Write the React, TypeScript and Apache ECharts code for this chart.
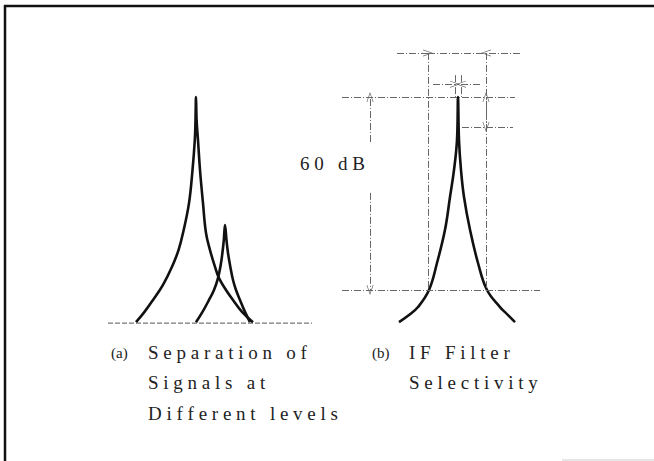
import React, { useEffect, useRef } from "react";
import * as echarts from "echarts";

// ---- data (x: frequency in arbitrary units, y: level in dB relative to peak) ----
const curveA_main: number[][] = [
  [136, -70], [144.5, -66.8], [153, -63.1], [163, -58.4], [172, -52.8], [178.5, -47.6],
  [183, -42.3], [189, -33.0], [192.5, -22.7], [194.8, -13.4], [195.5, -7.2], [196, 0],
  [196.6, -7.2], [198, -13.4], [200, -22.7], [203, -33.0], [206, -42.3], [210, -47.6],
  [215, -52.8], [219, -56.3], [226, -60], [233, -63.1], [242, -66.8], [253, -70],
];
const curveA_small: number[][] = [
  [196, -70], [202.5, -66.8], [209, -63.1], [214, -60], [218, -56.3], [220.7, -52.2],
  [222.4, -48.5], [223.8, -44.5], [225, -39.8], [226.5, -44.5], [228, -48.5], [230, -52.2],
  [233, -56.9], [236, -60], [240, -63.1], [245, -66.8], [250, -70],
];
const curveB: number[][] = [
  [399, -70], [409, -67.8], [418, -65.3], [429, -60], [437, -51.6], [445, -41.3],
  [450, -31.1], [454, -22.7], [457, -13.4], [458, 0], [459, -13.4], [461, -22.7],
  [464, -31.1], [470, -41.3], [478, -51.6], [487, -60], [500, -65.3], [508, -67.8],
  [515, -70],
];
const baselineA: number[][] = [[108, -70.3], [312, -70.3]];

// annotation levels (dB) and frequencies
const levelTop = 0;
const levelBottom = -60;
const levelWidthDim = 13.7;
const levelPeakDim = 4.0;
const levelPeakTick = 6.8;
const levelSmallDim = -9.3;
const xDim60 = 370;
const xLeft60 = 428;
const xRight60 = 486;
const xPeakL = 455;
const xPeakR = 461;

const labelsA = ["S e p a r a t i o n   o f", "S i g n a l s   a t", "D i f f e r e n t   l e v e l s"];
const labelsB = ["I F   F i l t e r", "S e l e c t i v i t y"];
const dimLabel = "6 0   d B";

const W = 654;
const H = 461;
const PX_PER_DB = 193 / 60;
const PEAK_Y = 97;

const ARROW = "path://M5,0 L10,10 L9,10 L5,2 L1,10 L0,10 Z";

function seg(a: number[], b: number[], arrowEnd = false, arrowStart = false) {
  return [
    { coord: a, symbol: arrowStart ? ARROW : "none" },
    { coord: b, symbol: arrowEnd ? ARROW : "none" },
  ];
}

export default function App() {
  const ref = useRef<HTMLDivElement>(null);
  useEffect(() => {
    if (!ref.current) return;
    const chart = echarts.init(ref.current, undefined, { renderer: "svg" });
    const curveStyle = { color: "#111", width: 2.6 };
    const dashDot = [7, 2, 1, 2];
    const midSmall = (levelTop + levelSmallDim) / 2;
    const textFont = "19px 'Liberation Serif'";
    chart.setOption({
      animation: false,
      backgroundColor: "#ffffff",
      grid: { left: 0, right: 0, top: 0, bottom: 0, containLabel: false },
      xAxis: { type: "value", min: 0, max: W, show: false },
      yAxis: {
        type: "value",
        min: -(H - PEAK_Y) / PX_PER_DB,
        max: PEAK_Y / PX_PER_DB,
        show: false,
      },
      series: [
        {
          type: "line",
          data: baselineA,
          symbol: "none",
          lineStyle: { color: "#777", width: 1.2, type: [5, 2] },
          silent: true,
        },
        {
          type: "line",
          data: curveA_main,
          symbol: "none",
          smooth: 0.4,
          lineStyle: curveStyle,
          silent: true,
        },
        {
          type: "line",
          data: curveA_small,
          symbol: "none",
          smooth: 0.4,
          lineStyle: curveStyle,
          silent: true,
        },
        {
          type: "line",
          data: curveB,
          symbol: "none",
          smooth: 0.4,
          lineStyle: curveStyle,
          silent: true,
          markLine: {
            silent: true,
            symbol: ["none", "none"],
            symbolSize: [7, 10],
            label: { show: false },
            lineStyle: { color: "#666", width: 1, type: dashDot },
            emphasis: { disabled: true },
            data: [
              seg([342, levelTop], [515, levelTop]),
              seg([342, levelBottom], [540, levelBottom]),
              seg([xDim60, -14], [xDim60, levelTop], true),
              seg([xDim60, -29.8], [xDim60, levelBottom], true),
              seg([xLeft60, levelWidthDim], [xLeft60, levelBottom]),
              seg([xRight60, levelWidthDim], [xRight60, levelBottom]),
              seg([397, levelWidthDim], [xLeft60, levelWidthDim], true),
              seg([520, levelWidthDim], [xRight60, levelWidthDim], true),
              seg([xLeft60, levelWidthDim], [xRight60, levelWidthDim]),
              seg([433, levelPeakDim], [xPeakL, levelPeakDim], true),
              seg([480, levelPeakDim], [xPeakR, levelPeakDim], true),
              seg([xPeakL, levelPeakTick], [xPeakL, levelTop]),
              seg([xPeakR, levelPeakTick], [xPeakR, levelTop]),
              seg([xRight60, midSmall], [xRight60, levelTop], true),
              seg([xRight60, midSmall], [xRight60, levelSmallDim], true),
              seg([462, levelSmallDim], [513, levelSmallDim]),
            ],
          },
        },
      ],
      graphic: [
        { type: "line", shape: { x1: 4, y1: 6, x2: W, y2: 6 }, style: { stroke: "#111", lineWidth: 2.5 }, silent: true },
        { type: "line", shape: { x1: 5, y1: 5, x2: 5, y2: H }, style: { stroke: "#111", lineWidth: 2.5 }, silent: true },
        { type: "line", shape: { x1: 562, y1: 460, x2: W, y2: 460 }, style: { stroke: "#ccc", lineWidth: 1 }, silent: true },
        { type: "text", x: 300, y: 163, style: { text: dimLabel, font: textFont, fill: "#222", verticalAlign: "middle" }, silent: true },
        { type: "text", x: 111, y: 353, style: { text: "(a)", font: "15px 'Liberation Serif'", fill: "#222", verticalAlign: "middle" }, silent: true },
        { type: "text", x: 372, y: 353, style: { text: "(b)", font: "15px 'Liberation Serif'", fill: "#222", verticalAlign: "middle" }, silent: true },
        ...labelsA.map((t, i) => ({
          type: "text", x: 148, y: 352 + i * 30.5,
          style: { text: t, font: textFont, fill: "#222", verticalAlign: "middle" }, silent: true,
        })),
        ...labelsB.map((t, i) => ({
          type: "text", x: 409, y: 352 + i * 30.5,
          style: { text: t, font: textFont, fill: "#222", verticalAlign: "middle" }, silent: true,
        })),
      ],
    });
    return () => chart.dispose();
  }, []);
  return (
    <div
      ref={ref}
      style={{ position: "absolute", left: 0, top: 0, width: W, height: H, background: "#fff" }}
    />
  );
}
